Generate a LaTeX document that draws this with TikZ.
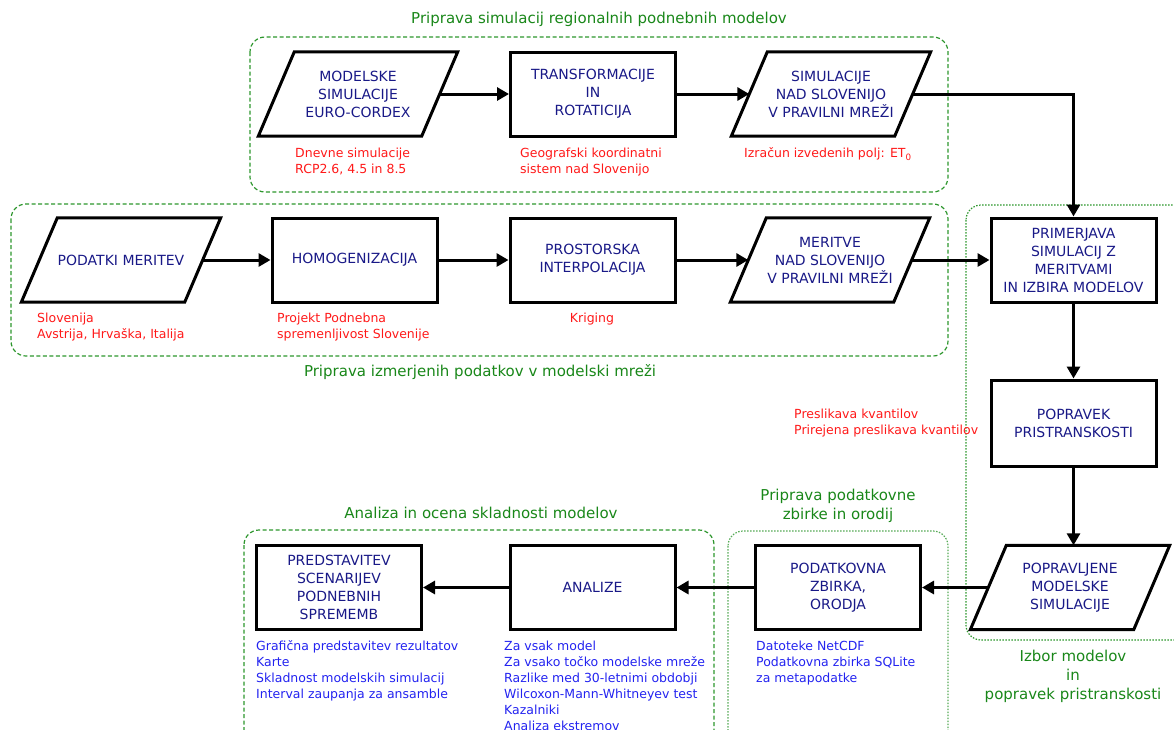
\documentclass[tikz,border=0pt]{standalone}
\usepackage{fontspec}
\setmainfont{DejaVu Sans}
\usetikzlibrary{positioning, arrows.meta, calc}
\definecolor{cBox}{RGB}{25,25,135}
\definecolor{cNote}{RGB}{255,25,25}
\definecolor{cInfo}{RGB}{35,35,240}
\definecolor{cGrp}{RGB}{25,135,25}
\definecolor{cFrame}{RGB}{45,150,45}

\tikzset{
  proc/.style={draw, line width=3pt, minimum width=165pt, minimum height=84pt,
    align=center, text=cBox, font=\fontsize{14}{18}\selectfont, inner sep=2pt},
  iobox/.style={minimum width=163pt, minimum height=84pt,
    align=center, text=cBox, font=\fontsize{14}{18}\selectfont, inner sep=2pt},
  flow/.style={line width=3pt, -{Triangle[length=12pt,width=13pt]}},
  rednote/.style={text=cNote, align=left, font=\fontsize{12.5}{16}\selectfont, inner sep=0pt, anchor=north west},
  bluenote/.style={rednote, text=cInfo},
  grp/.style={draw=cFrame, line width=1.2pt, dash pattern=on 4pt off 2.5pt, rounded corners=15pt},
  grpdot/.style={grp, dash pattern=on 1.5pt off 1.5pt},
  grplabel/.style={text=cGrp, align=center, font=\fontsize{15}{19}\selectfont}
}

% parallelogram round an iobox node
\newcommand{\slantframe}[1]{%
  \draw[line width=3pt] ($(#1.north west)+(18,0)$) -- ($(#1.north east)+(18,0)$)
    -- ($(#1.south east)+(-18,0)$) -- ($(#1.south west)+(-18,0)$) -- cycle;}

\begin{document}
\begin{tikzpicture}[x=1pt, y=-1pt]
    \useasboundingbox (0,0) rectangle (1174,729);
    \clip (0,0) rectangle (1174,729);

    % Group frames
    \draw[grp] (250,37) rectangle (948,192);
    \draw[grp] (11,204) rectangle (948,356);
    \draw[grpdot] (966,205) rectangle (1190,640);
    \draw[grp] (244,530) rectangle (714,745);
    \draw[grpdot, draw=cFrame!80] (728,531) rectangle (948,745);

    % Group labels
    \node[grplabel] (simlabel) at (599,19) {Priprava simulacij regionalnih podnebnih modelov};
    \node[grplabel] (merlabel) at (480,372) {Priprava izmerjenih podatkov v modelski mreži};
    \node[grplabel] (izborlabel) at (1073,676) {Izbor modelov\\in\\popravek pristranskosti};
    \node[grplabel] (zbirkalabel) at (838,506) {Priprava podatkovne\\zbirke in orodij};
    \node[grplabel] (analizalabel) at (481,513) {Analiza in ocena skladnosti modelov};

    % Top row: simulations
    \node[iobox] (modsim) at (358,94) {MODELSKE\\SIMULACIJE\\EURO-CORDEX};
    \node[proc] (transf) at (593,94) {TRANSFORMACIJE\\IN\\ROTATICIJA};
    \node[iobox] (simslo) at (831,94) {SIMULACIJE\\NAD SLOVENIJO\\V PRAVILNI MREŽI};
    \slantframe{modsim}
    \slantframe{simslo}

    % Middle row: measurements
    \node[iobox] (podmer) at (121,260) {PODATKI MERITEV};
    \node[proc] (homog) at (354.5,260) {HOMOGENIZACIJA};
    \node[proc] (interp) at (592.5,260) {PROSTORSKA\\INTERPOLACIJA};
    \node[iobox] (merslo) at (830,260) {MERITVE\\NAD SLOVENIJO\\V PRAVILNI MREŽI};
    \slantframe{podmer}
    \slantframe{merslo}

    % Right column
    \node[proc] (primer) at (1073.5,260) {PRIMERJAVA\\SIMULACIJ Z\\MERITVAMI\\IN IZBIRA MODELOV};
    \node[proc, minimum height=86pt] (poprav) at (1073.5,423) {POPRAVEK\\PRISTRANSKOSTI};
    \node[iobox] (popsim) at (1070,587.5) {POPRAVLJENE\\MODELSKE\\SIMULACIJE};
    \slantframe{popsim}

    % Bottom row
    \node[proc] (zbirka) at (838,587.5) {PODATKOVNA\\ZBIRKA,\\ORODJA};
    \node[proc] (analize) at (592.5,587.5) {ANALIZE};
    \node[proc] (predst) at (339,587.5) {PREDSTAVITEV\\SCENARIJEV\\PODNEBNIH\\SPREMEMB};

    % Connections
    \draw[flow] (modsim.east) -- (transf.west);
    \draw[flow] (transf.east) -- (simslo.west);
    \draw[flow] (simslo.east) -| (primer.north);
    \draw[flow] (podmer.east) -- (homog.west);
    \draw[flow] (homog.east) -- (interp.west);
    \draw[flow] (interp.east) -- (merslo.west);
    \draw[flow] (merslo.east) -- (primer.west);
    \draw[flow] (primer.south) -- (poprav.north);
    \draw[flow] (poprav.south) -- (poprav.south |- popsim.north);
    \draw[flow] (popsim.west) -- (zbirka.east);
    \draw[flow] (zbirka.west) -- (analize.east);
    \draw[flow] (analize.west) -- (predst.east);

    % Notes
    \node[rednote] (modsimnote) at (295,147.5) {Dnevne simulacije\\RCP2.6, 4.5 in 8.5};
    \node[rednote] (transfnote) at (520,147.5) {Geografski koordinatni\\sistem nad Slovenijo};
    \node[rednote] (simslonote) at (744,147.5) {Izračun izvedenih polj: ET\textsubscript{0}};
    \node[rednote] (podmernote) at (37,312.5) {Slovenija\\Avstrija, Hrvaška, Italija};
    \node[rednote] (homognote) at (277,312.5) {Projekt Podnebna\\spremenljivost Slovenije};
    \node[rednote, anchor=north] (interpnote) at (592,312.5) {Kriging};
    \node[rednote] (popravnote) at (794,408.5) {Preslikava kvantilov\\Prirejena preslikava kvantilov};
    \node[bluenote] (zbirkanote) at (756,640.5) {Datoteke NetCDF\\Podatkovna zbirka SQLite\\za metapodatke};
    \node[bluenote] (predstnote) at (256,640.5) {Grafična predstavitev rezultatov\\Karte\\Skladnost modelskih simulacij\\Interval zaupanja za ansamble};
    \node[bluenote] (analizenote) at (504,640.5) {Za vsak model\\Za vsako točko modelske mreže\\Razlike med 30-letnimi obdobji\\Wilcoxon-Mann-Whitneyev test\\Kazalniki\\Analiza ekstremov};
\end{tikzpicture}
\end{document}
